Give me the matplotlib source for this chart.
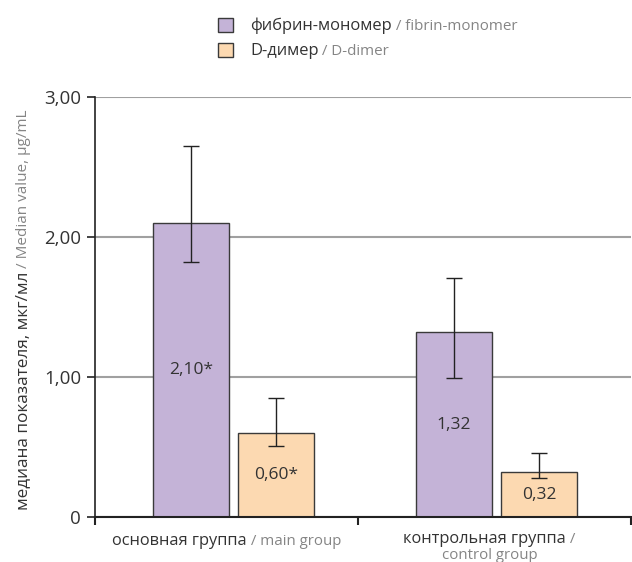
import matplotlib
matplotlib.use('Agg')
import matplotlib.pyplot as plt
import numpy as np
from matplotlib.patches import Rectangle
from matplotlib.transforms import IdentityTransform

plt.rcParams['font.family'] = ['Open Sans', 'DejaVu Sans']

# medians and ranges, µg/mL
groups = [0, 1]
fibrin = [2.10, 1.32]
fibrin_lo = [1.82, 0.99]
fibrin_hi = [2.65, 1.71]
ddimer = [0.60, 0.32]
ddimer_lo = [0.51, 0.28]
ddimer_hi = [0.85, 0.46]
fibrin_labels = ['2,10*', '1,32']
ddimer_labels = ['0,60*', '0,32']
yticks = [0, 1, 2, 3]
ytick_labels = ['0', '1,00', '2,00', '3,00']

DARK = '#333333'
GREY = '#858585'
PURPLE = '#c4b3d7'
PEACH = '#fcd9b1'
EDGE = '#3a3a3a'

fig = plt.figure(figsize=(6.32, 5.62), dpi=100)
ax = fig.add_axes([0.1503, 0.0801, 0.848, 0.747])

x = np.array(groups, dtype=float)
w = 0.29
xf = x - 0.136
xd = x + 0.188

ax.bar(xf, fibrin, w, color=PURPLE, edgecolor=EDGE, linewidth=1, zorder=2)
ax.bar(xd, ddimer, w, color=PEACH, edgecolor=EDGE, linewidth=1, zorder=2)

f = np.array(fibrin)
d = np.array(ddimer)
ax.errorbar(xf, f, yerr=[f - np.array(fibrin_lo), np.array(fibrin_hi) - f],
            fmt='none', ecolor='#222222', elinewidth=1, capsize=6, capthick=1, zorder=3)
ax.errorbar(xd, d, yerr=[d - np.array(ddimer_lo), np.array(ddimer_hi) - d],
            fmt='none', ecolor='#222222', elinewidth=1, capsize=6, capthick=1, zorder=3)

for xi, v, s in zip(xf, fibrin, fibrin_labels):
    ax.text(xi, v / 2, s, ha='center', va='center', fontsize=12.5, color=DARK, zorder=4)
for xi, v, s in zip(xd, ddimer, ddimer_labels):
    ax.text(xi, v / 2, s, ha='center', va='center', fontsize=12.5, color=DARK, zorder=4)

xmax = 1.538
ax.set_xlim(-0.5, xmax)
ax.set_ylim(0, 3)
ax.set_yticks(yticks, ytick_labels)
ax.set_xticks([-0.5, 0.5, xmax], ['', '', ''])
ax.tick_params(axis='y', length=6, width=1.2, color='#222222', labelsize=13.5,
               labelcolor=DARK, pad=4)
ax.tick_params(axis='x', length=6, width=1.5, color='#222222')
ax.yaxis.grid(True, color='#a0a0a0', linewidth=1.5, zorder=0)
ax.set_axisbelow(True)
for side in ['top', 'right']:
    ax.spines[side].set_visible(False)
ax.spines['left'].set_color('#222222')
ax.spines['left'].set_linewidth(1.2)
ax.spines['bottom'].set_color('#222222')
ax.spines['bottom'].set_linewidth(1.5)

fig.canvas.draw()
renderer = fig.canvas.get_renderer()
H = fig.bbox.height


def colored_line(parts, x0, y0, center=True, rotation=0):
    # lay out differently coloured pieces of one line, in pixel coords
    texts = []
    for s, c, fs in parts:
        t = fig.text(0, 0, s, color=c, fontsize=fs, transform=IdentityTransform(),
                     ha='left', va='baseline', rotation=rotation, rotation_mode='anchor')
        texts.append(t)
    sizes = []
    for t in texts:
        bb = t.get_window_extent(renderer)
        sizes.append(bb.width if rotation == 0 else bb.height)
    pos = x0 - sum(sizes) / 2 if center else (x0 if rotation == 0 else y0)
    for t, sz in zip(texts, sizes):
        if rotation == 0:
            t.set_position((pos, y0))
        else:
            t.set_position((x0, pos))
        pos += sz


# category labels
cx = [ax.transData.transform((g, 0))[0] for g in groups]
colored_line([('основная группа', DARK, 11.8), (' / main group', GREY, 10.8)], cx[0], H - 545)
colored_line([('контрольная группа', DARK, 11.8), (' /', GREY, 10.8)], cx[1], H - 543)
colored_line([('control group', GREY, 10.8)], cx[1], H - 559)

# y axis title
colored_line([('медиана показателя, мкг/мл', DARK, 12.3), (' / Median value, µg/mL', GREY, 11)],
             27, H - 510, center=False, rotation=90)

# legend
leg = [(PURPLE, 'фибрин-мономер', ' / fibrin-monomer', 18, 29.5),
       (PEACH, 'D-димер', ' / D-dimer', 43, 55)]
for col, ru, en, top, base in leg:
    fig.add_artist(Rectangle((218, H - top - 14), 15, 14, transform=IdentityTransform(),
                             facecolor=col, edgecolor=EDGE, linewidth=1))
    colored_line([(ru, DARK, 11.9), (en, GREY, 10.9)], 250, H - base, center=False)

fig.savefig('out.png', dpi=100)
